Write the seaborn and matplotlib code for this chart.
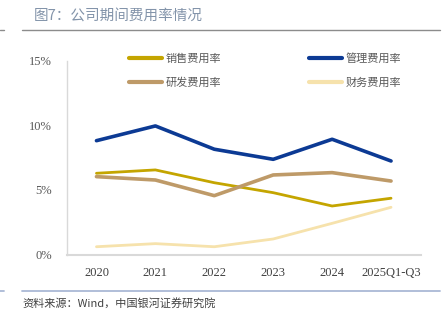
import matplotlib
matplotlib.use("Agg")
import matplotlib.pyplot as plt
import seaborn as sns
import pandas as pd
from matplotlib.lines import Line2D

categories = ["2020", "2021", "2022", "2023", "2024", "2025Q1-Q3"]
sales = [6.28, 6.54, 5.55, 4.78, 3.75, 4.35]
admin = [8.80, 9.94, 8.14, 7.36, 8.91, 7.23]
rnd = [6.02, 5.76, 4.55, 6.15, 6.33, 5.68]
finance = [0.60, 0.84, 0.60, 1.20, 2.41, 3.65]
series_names = ["销售费用率", "管理费用率", "研发费用率", "财务费用率"]
yticks = [0, 5, 10, 15]
ytick_labels = ["0%", "5%", "10%", "15%"]

colors = {"销售费用率": "#C4A500", "管理费用率": "#0C3A94",
          "研发费用率": "#BE9A68", "财务费用率": "#F6E2AC"}
widths = {"销售费用率": 2.0, "管理费用率": 2.6, "研发费用率": 2.6, "财务费用率": 2.0}

df = pd.DataFrame({"year": categories * 4,
                   "idx": list(range(6)) * 4,
                   "series": sum([[n] * 6 for n in series_names], []),
                   "value": sales + admin + rnd + finance})

sns.set_theme(style="white")
plt.rcParams['font.family'] = ['Noto Sans CJK SC', 'DejaVu Sans']

fig = plt.figure(figsize=(4.48, 3.24), dpi=100)
ax = fig.add_axes([67 / 448, 1 - 254.5 / 324, (420.5 - 67) / 448, (254.5 - 60.5) / 324])

for name in series_names:
    sub = df[df.series == name]
    sns.lineplot(data=sub, x="idx", y="value", ax=ax, color=colors[name],
                 linewidth=widths[name], legend=False)

ax.set_xlim(-0.5, 5.5)
ax.set_ylim(0, 15)
ax.set_xlabel("")
ax.set_ylabel("")
ax.set_xticks(range(len(categories)))
ax.set_xticklabels(categories, fontfamily="Liberation Serif", fontsize=9, color="#404040")
ax.set_yticks(yticks)
ax.set_yticklabels(ytick_labels, fontfamily="Liberation Serif", fontsize=9, color="#595959")
ax.tick_params(axis="x", length=0, pad=9)
ax.tick_params(axis="y", length=0, pad=11)
for s in ["top", "right"]:
    ax.spines[s].set_visible(False)
ax.spines["left"].set_color("#d9d9d9")
ax.spines["bottom"].set_color("#d9d9d9")
ax.spines["left"].set_linewidth(1.0)
ax.spines["bottom"].set_linewidth(1.5)
ax.grid(False)

# legend
handles = [Line2D([0], [0], color=colors[n], linewidth=3) for n in series_names]
order = [0, 2, 1, 3]
leg = fig.legend([handles[i] for i in order], [series_names[i] for i in order],
                 ncol=2, loc="upper left", bbox_to_anchor=(119 / 448, 1 - 43 / 324),
                 frameon=False, fontsize=8, handlelength=3.0, handletextpad=0.3,
                 columnspacing=7.9, labelspacing=1.2, labelcolor="#595959")

# title and decoration lines
fig.text(34 / 448, 1 - 17 / 324, "图7：公司期间费用率情况", fontsize=10.5,
         color="#8394AA", va="center", ha="left")
fig.add_artist(Line2D([22 / 448, 440 / 448], [1 - 30 / 324, 1 - 30 / 324],
                      color="#8c8c8c", linewidth=1.0))
fig.add_artist(Line2D([0, 4 / 448], [1 - 30 / 324, 1 - 30 / 324],
                      color="#8c8c8c", linewidth=1.0))
fig.add_artist(Line2D([22 / 448, 440 / 448], [1 - 290.5 / 324, 1 - 290.5 / 324],
                      color="#aab9d6", linewidth=1.3))
fig.add_artist(Line2D([0, 4 / 448], [1 - 290.5 / 324, 1 - 290.5 / 324],
                      color="#aab9d6", linewidth=1.3))
fig.text(22 / 448, 1 - 303 / 324, "资料来源：Wind，中国银河证券研究院", fontsize=8,
         color="#404040", style="italic", va="center", ha="left")

fig.savefig("out.png", dpi=100)
